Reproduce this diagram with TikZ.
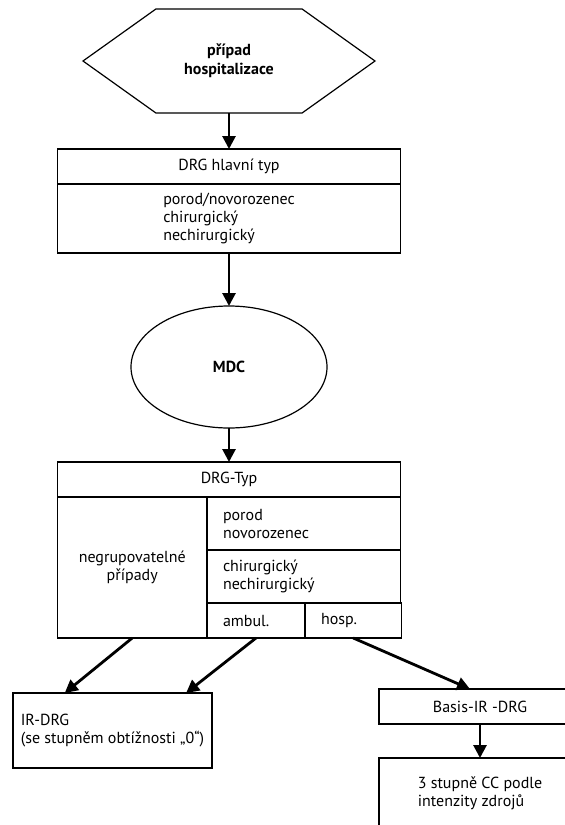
\documentclass[tikz,border=0pt]{standalone}
\usepackage{fontspec}
\setmainfont{PT Sans}
\usetikzlibrary{positioning,calc,shapes.geometric,shapes.symbols,arrows.meta}

\begin{document}
\begin{tikzpicture}[
x=1pt, y=-1pt,
font=\fontsize{16}{18}\selectfont,
box/.style={rectangle, draw, line width=1.3pt, inner sep=0pt, outer sep=0pt, align=center},
cell/.style={box, align=left, anchor=north west, inner xsep=16pt, inner ysep=0pt},
bold/.style={font=\fontsize{16}{19}\selectfont\bfseries},
arrow/.style={-{Triangle[width=13pt,length=13pt]}, line width=2.8pt}
]
\useasboundingbox (0,0) rectangle (565,825);
\clip (0,0) rectangle (565,825);

% --- START: hexagon ---
\node[signal, signal to=west and east, signal pointer angle=71, draw, line width=1.2pt,
minimum width=292pt, minimum height=104pt, inner sep=0pt, outer sep=0pt, align=center, bold]
(pripad) at (229,61) {případ\\hospitalizace};

% --- DRG HLAVNI TYP ---
\node[box, minimum width=343pt, minimum height=35pt] (hlavni) at (229,166.5) {DRG hlavní typ};
\node[box, minimum width=343pt, minimum height=69pt, below=0pt of hlavni, align=left] (hlavnibody)
{porod/novorozenec\\chirurgický\\nechirurgický};

% --- MDC ---
\node[ellipse, draw, line width=1.2pt, minimum width=196pt, minimum height=122pt, inner sep=0pt,
outer sep=0pt, bold] (mdc) at (229,367) {MDC};

% --- DRG-TYP TABLE ---
\node[box, minimum width=343pt, minimum height=35pt] (typ) at (229,479.5) {DRG-Typ};
\node[box, anchor=north west, minimum width=149.5pt, minimum height=141pt] (negrup) at (typ.south west)
{negrupovatelné\\případy};
\node[cell, text width=161.5pt, minimum height=53pt] (porod) at (negrup.north east) {porod\\novorozenec};
\node[cell, text width=161.5pt, minimum height=53pt] (chir) at (porod.south west) {chirurgický\\nechirurgický};
\node[cell, text width=66pt, minimum height=35pt] (ambul) at (chir.south west) {ambul.};
\node[cell, text width=64.5pt, minimum height=35pt] (hosp) at (ambul.north east) {hosp.};

% --- RESULTS ---
\node[box, minimum width=199pt, minimum height=75pt, align=left] (irdrg) at (112.5,730.5)
{IR-DRG\\(se stupněm obtížnosti „0“)};
\node[box, minimum width=202pt, minimum height=35pt] (basis) at (480,706.5) {Basis-IR -DRG};
\node[box, minimum width=202pt, minimum height=70pt, align=left, below=34pt of basis] (zdroje)
{3 stupně CC podle\\intenzity zdrojů};

% --- FLOWS ---
\draw[arrow] (pripad) -- (hlavni);
\draw[arrow] (hlavnibody) -- (mdc);
\draw[arrow] (mdc) -- (typ);
\draw[arrow] (negrup.south) -- ($(irdrg.north west)!0.26!(irdrg.north east)$);
\draw[arrow] (ambul.south) -- ($(irdrg.north west)!0.87!(irdrg.north east)$);
\draw[arrow] (hosp.south) -- ($(basis.north)+(-10,0)$);
\draw[arrow] (basis) -- (zdroje);

\end{tikzpicture}
\end{document}
